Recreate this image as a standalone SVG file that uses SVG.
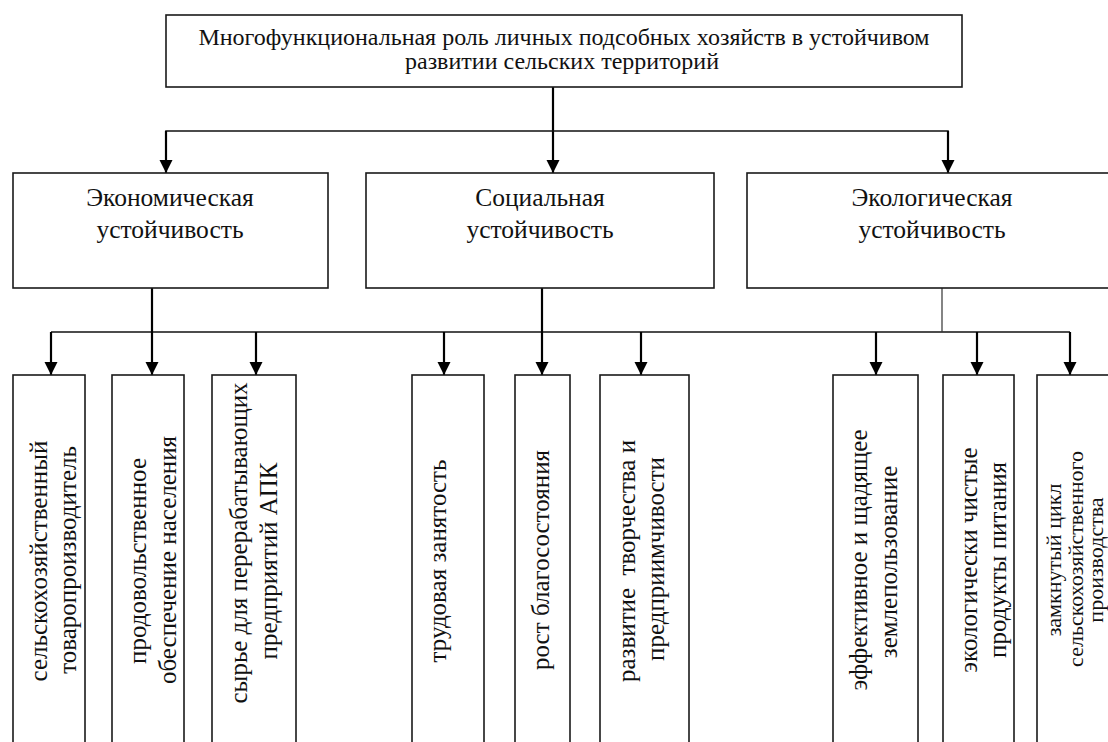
<svg xmlns="http://www.w3.org/2000/svg" width="1108" height="742" viewBox="0 0 1108 742">
<style>
.box{fill:#fff;stroke:#1a1a1a;stroke-width:1.6}
.t{font-family:"Liberation Serif","Times New Roman",serif;fill:#111;text-anchor:middle}
.top{font-size:24px}
.mid{font-size:25.5px}
.v{font-size:25px}
.vs{font-size:22px}
.ln{fill:none;stroke:#111;stroke-width:1.6}
.ar{fill:none;stroke:#000;stroke-width:2.2}
.thin{fill:none;stroke:#333;stroke-width:1.2}
</style>
<defs>
<marker id="ah" markerUnits="userSpaceOnUse" markerWidth="14" markerHeight="14" refX="13" refY="7" orient="auto">
<path d="M0,0.5 L13,7 L0,13.5 Z" fill="#000"/>
</marker>
</defs>
<rect width="1108" height="742" fill="#fff"/>
<g id="connectors">
<line class="ar" x1="553" y1="87" x2="553" y2="173" marker-end="url(#ah)"/>
<polyline class="ln" points="166,173 166,131 948,131 948,173"/>
<line class="ar" x1="166" y1="131" x2="166" y2="173" marker-end="url(#ah)"/>
<line class="ar" x1="948" y1="131" x2="948" y2="173" marker-end="url(#ah)"/>
<line class="ln" x1="51" y1="332" x2="1070" y2="332"/>
<line class="ar" x1="152" y1="288" x2="152" y2="375" marker-end="url(#ah)"/>
<line class="ar" x1="542" y1="288" x2="542" y2="375" marker-end="url(#ah)"/>
<line class="thin" x1="942" y1="288" x2="942" y2="332"/>
<line class="ar" x1="51" y1="332" x2="51" y2="375" marker-end="url(#ah)"/>
<line class="ar" x1="256" y1="332" x2="256" y2="375" marker-end="url(#ah)"/>
<line class="ar" x1="444" y1="332" x2="444" y2="375" marker-end="url(#ah)"/>
<line class="ar" x1="641" y1="332" x2="641" y2="375" marker-end="url(#ah)"/>
<line class="ar" x1="876" y1="332" x2="876" y2="375" marker-end="url(#ah)"/>
<line class="ar" x1="977" y1="332" x2="977" y2="375" marker-end="url(#ah)"/>
<line class="ar" x1="1070" y1="332" x2="1070" y2="375" marker-end="url(#ah)"/>
</g>
<g id="root">
<rect class="box" x="166" y="15" width="796" height="72"/>
<text class="t top" x="564" y="45">Многофункциональная роль личных подсобных хозяйств в устойчивом</text>
<text class="t top" x="562" y="69">развитии сельских территорий</text>
</g>
<g id="econ">
<rect class="box" x="13" y="173" width="315" height="115"/>
<text class="t mid" x="170" y="206">Экономическая</text>
<text class="t mid" x="170" y="238">устойчивость</text>
</g>
<g id="social">
<rect class="box" x="366" y="173" width="348" height="115"/>
<text class="t mid" x="540" y="206">Социальная</text>
<text class="t mid" x="540" y="238">устойчивость</text>
</g>
<g id="ecol">
<rect class="box" x="747" y="173" width="380" height="115"/>
<text class="t mid" x="932" y="206">Экологическая</text>
<text class="t mid" x="932" y="238">устойчивость</text>
</g>
<g id="b1">
<rect class="box" x="13" y="375" width="72" height="380"/>
<text class="t v" transform="translate(47,561) rotate(-90)">сельскохозяйственный</text>
<text class="t v" transform="translate(76,560) rotate(-90)">товаропроизводитель</text>
</g>
<g id="b2">
<rect class="box" x="112" y="375" width="72" height="380"/>
<text class="t v" transform="translate(146,561) rotate(-90)">продовольственное</text>
<text class="t v" transform="translate(176,560) rotate(-90)">обеспечение населения</text>
</g>
<g id="b3">
<rect class="box" x="212" y="375" width="84" height="380"/>
<text class="t v" transform="translate(247,543) rotate(-90)">сырье для перерабатывающих</text>
<text class="t v" transform="translate(277,561) rotate(-90)">предприятий АПК</text>
</g>
<g id="b4">
<rect class="box" x="412" y="375" width="72" height="380"/>
<text class="t v" transform="translate(446,561) rotate(-90)">трудовая занятость</text>
</g>
<g id="b5">
<rect class="box" x="515" y="375" width="55" height="380"/>
<text class="t v" transform="translate(549,560) rotate(-90)">рост благосостояния</text>
</g>
<g id="b6">
<rect class="box" x="600" y="375" width="89" height="380"/>
<text class="t v" transform="translate(635,561) rotate(-90)" xml:space="preserve">развитие  творчества и</text>
<text class="t v" transform="translate(664,559) rotate(-90)">предприимчивости</text>
</g>
<g id="b7">
<rect class="box" x="833" y="375" width="85" height="380"/>
<text class="t v" transform="translate(867,560) rotate(-90)">эффективное и щадящее</text>
<text class="t v" transform="translate(897,562) rotate(-90)">землепользование</text>
</g>
<g id="b8">
<rect class="box" x="943" y="375" width="71" height="380"/>
<text class="t v" transform="translate(977,560) rotate(-90)">экологически чистые</text>
<text class="t v" transform="translate(1006,560) rotate(-90)">продукты питания</text>
</g>
<g id="b9">
<rect class="box" x="1037" y="375" width="90" height="380"/>
<text class="t vs" transform="translate(1061,560) rotate(-90)">замкнутый цикл</text>
<text class="t vs" transform="translate(1083,559) rotate(-90)">сельскохозяйственного</text>
<text class="t vs" transform="translate(1103,560) rotate(-90)">производства</text>
</g>
</svg>
